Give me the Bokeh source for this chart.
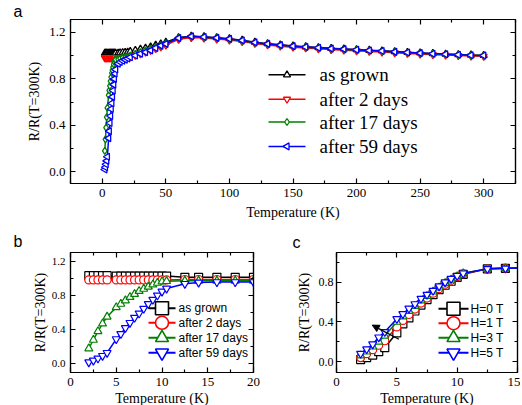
import numpy as np
from bokeh.plotting import figure
from bokeh.layouts import column, row
from bokeh.models import Range1d, LinearAxis, FixedTicker, Arrow, NormalHead, Title
from bokeh.core.properties import value
from bokeh.embed import file_html
from bokeh.resources import INLINE

# ---------------- data: panel a ----------------
a_T = [2, 2.5, 3, 3.5, 4, 5, 5.5, 6, 6.5, 7, 7.5, 8, 8.5, 9, 9.5, 10, 10.5, 12.5, 14, 16, 18, 20,
       22, 26, 30, 34, 38, 42, 46, 50,
       60, 70, 80, 90, 100, 110, 120, 130, 140, 150, 160, 170, 180, 190, 200,
       210, 220, 230, 240, 250, 260, 270, 280, 290, 300]
a_grown = [1.02, 1.02, 1.02, 1.02, 1.02, 1.02, 1.02, 1.02, 1.02, 1.02, 1.02, 1.02, 1.02, 1.02, 1.02, 1.02, 1.02,
           1.022, 1.024, 1.026, 1.028, 1.03,
           1.035, 1.045, 1.055, 1.065, 1.075, 1.09, 1.10, 1.115,
           1.155, 1.167, 1.162, 1.154, 1.145, 1.132, 1.115, 1.102, 1.092, 1.083, 1.076, 1.069, 1.062, 1.057, 1.052,
           1.046, 1.041, 1.034, 1.028, 1.023, 1.018, 1.013, 1.009, 1.005, 1.002]
a_2days = [0.98, 0.98, 0.98, 0.98, 0.98, 0.98, 0.98, 0.98, 0.98, 0.98, 0.98, 0.98, 0.98, 0.98, 0.98, 0.98, 0.98,
           0.98, 0.982, 0.984, 0.986, 0.988,
           0.99, 1.002, 1.015, 1.03, 1.045, 1.06, 1.075, 1.09,
           1.14, 1.155, 1.15, 1.142, 1.133, 1.12, 1.104, 1.091, 1.081, 1.072, 1.065, 1.058, 1.051, 1.046, 1.041,
           1.035, 1.03, 1.024, 1.018, 1.013, 1.008, 1.004, 1.0, 0.996, 0.993]
a_17days = [0.18, 0.28, 0.38, 0.47, 0.55, 0.66, 0.70, 0.74, 0.78, 0.815, 0.85, 0.875, 0.90, 0.925, 0.945, 0.96, 0.965,
            0.97, 0.975, 0.98, 0.985, 0.99,
            1.0, 1.015, 1.03, 1.045, 1.06, 1.075, 1.09, 1.105,
            1.15, 1.163, 1.157, 1.149, 1.14, 1.127, 1.11, 1.098, 1.088, 1.079, 1.072, 1.065, 1.058, 1.053, 1.048,
            1.042, 1.037, 1.03, 1.024, 1.019, 1.014, 1.009, 1.005, 1.002, 1.0]
a_59days = [0.02, 0.04, 0.065, 0.095, 0.13, 0.29, 0.35, 0.42, 0.48, 0.54, 0.59, 0.645, 0.70, 0.75, 0.80, 0.845, 0.88,
            0.93, 0.945, 0.955, 0.965, 0.975,
            0.985, 1.0, 1.015, 1.03, 1.045, 1.065, 1.085, 1.10,
            1.15, 1.165, 1.16, 1.152, 1.143, 1.13, 1.113, 1.10, 1.09, 1.081, 1.074, 1.067, 1.06, 1.055, 1.05,
            1.044, 1.039, 1.032, 1.026, 1.021, 1.016, 1.011, 1.007, 1.003, 1.0]
a_labels = ["as grown", "after 2 days", "after 17 days", "after 59 days"]
a_xticks = [0, 50, 100, 150, 200, 250, 300]
a_xminor = [-25, 25, 75, 125, 175, 225, 275, 325]
a_yticks = [0.0, 0.4, 0.8, 1.2]
a_ytick_labels = ["0.0", "0.4", "0.8", "1.2"]
a_yminor = [-0.2, 0.2, 0.6, 1.0, 1.4]

# ---------------- data: panel b ----------------
b_T = [2, 2.5, 3, 3.5, 4, 5, 5.5, 6, 6.5, 7, 7.5, 8, 8.5, 9, 9.5, 10, 10.5, 12.5, 14, 16, 18, 20]
b_grown = [1.03, 1.03, 1.03, 1.03, 1.03, 1.025, 1.025, 1.025, 1.025, 1.025, 1.025, 1.025, 1.025, 1.025, 1.025,
           1.025, 1.025, 1.01, 1.01, 1.01, 1.01, 1.01]
b_2days = [0.98, 0.98, 0.98, 0.98, 0.98, 0.98, 0.98, 0.98, 0.98, 0.98, 0.98, 0.98, 0.98, 0.98, 0.98,
           0.98, 0.98, 0.985, 0.985, 0.985, 0.985, 0.985]
b_17days = [0.18, 0.28, 0.38, 0.47, 0.55, 0.66, 0.70, 0.74, 0.78, 0.815, 0.85, 0.875, 0.90, 0.925, 0.945,
            0.96, 0.965, 0.97, 0.97, 0.97, 0.97, 0.97]
b_59days = [0.02, 0.04, 0.065, 0.095, 0.13, 0.29, 0.35, 0.42, 0.48, 0.54, 0.59, 0.645, 0.70, 0.75, 0.80,
            0.845, 0.88, 0.935, 0.95, 0.955, 0.955, 0.955]
b_xticks = [0, 5, 10, 15, 20]
b_xminor = [2.5, 7.5, 12.5, 17.5]
b_yticks = [0.0, 0.4, 0.8, 1.2]
b_ytick_labels = ["0.0", "0.4", "0.8", "1.2"]
b_yminor = [0.2, 0.6, 1.0]

# ---------------- data: panel c ----------------
c_T = [2, 2.5, 3, 3.5, 4, 5, 5.5, 6, 6.5, 7, 7.5, 8, 8.5, 9, 9.5, 10, 10.5, 12.5, 14, 16]
c_H0 = [0.02, 0.04, 0.065, 0.10, 0.14, 0.29, 0.38, 0.44, 0.51, 0.57, 0.625, 0.675, 0.725, 0.77, 0.81, 0.85, 0.88,
        0.935, 0.94, 0.945]
c_H1 = [0.04, 0.08, 0.12, 0.165, 0.21, 0.35, 0.415, 0.475, 0.53, 0.59, 0.64, 0.69, 0.735, 0.78, 0.82, 0.855, 0.885,
        0.935, 0.94, 0.945]
c_H3 = [0.06, 0.10, 0.15, 0.20, 0.26, 0.40, 0.455, 0.51, 0.56, 0.615, 0.66, 0.705, 0.745, 0.79, 0.825, 0.86, 0.89,
        0.935, 0.94, 0.945]
c_H5 = [0.08, 0.125, 0.175, 0.245, 0.30, 0.43, 0.48, 0.535, 0.58, 0.635, 0.675, 0.715, 0.76, 0.80, 0.835, 0.865,
        0.89, 0.935, 0.94, 0.945]
c_labels = ["H=0 T", "H=1 T", "H=3 T", "H=5 T"]
c_xticks = [0, 5, 10, 15]
c_xminor = [2.5, 7.5, 12.5]
c_yticks = [0.0, 0.4, 0.8]
c_ytick_labels = ["0.0", "0.4", "0.8"]
c_yminor = [0.2, 0.6, 1.0]
c_arrow_x = [5.17, 2.96]
c_arrow_y = [0.225, 0.368]

COLORS = ["#000000", "#ff0000", "#008000", "#0000ff"]
SERIF = "Liberation Serif"
SANS = "Liberation Sans"
XLABEL = "Temperature (K)"
YLABEL = "R/R(T=300K)"


def style(p, xt, xm, yt, ylab, ym, xfs, yfs, lfs):
    p.outline_line_color = "black"
    p.outline_line_width = 1.2
    p.grid.visible = False
    p.background_fill_color = "white"
    p.border_fill_color = "white"
    fmt = {float(v): s for v, s in zip(yt, ylab)}
    for ax, ticks, minor in ((p.xaxis[0], xt, xm), (p.yaxis[0], yt, ym)):
        ax.ticker = FixedTicker(ticks=ticks, minor_ticks=minor)
        ax.major_tick_in = 5
        ax.major_tick_out = 0
        ax.minor_tick_in = 3
        ax.minor_tick_out = 0
        ax.axis_line_width = 1.2
        ax.major_tick_line_width = 1.2
        ax.minor_tick_line_width = 1.2
        ax.major_label_text_font = SERIF
        ax.axis_label_text_font = SERIF
        ax.axis_label_text_font_style = "normal"
        ax.axis_label_text_color = "black"
        ax.major_label_text_color = "black"
        ax.axis_label_text_font_size = lfs
    p.xaxis[0].major_label_text_font_size = xfs
    p.yaxis[0].major_label_text_font_size = yfs
    p.yaxis[0].major_label_overrides = fmt
    for side, ticks, minor in (("right", yt, ym), ("above", xt, xm)):
        ax = LinearAxis(ticker=FixedTicker(ticks=ticks, minor_ticks=minor),
                        major_label_text_font_size="1px", major_label_text_color=None,
                        major_label_text_alpha=0, major_label_standoff=0,
                        major_tick_in=5, major_tick_out=0, minor_tick_in=3, minor_tick_out=0,
                        axis_line_width=1.2, major_tick_line_width=1.2, minor_tick_line_width=1.2)
        p.add_layout(ax, side)


def panel_label(p, text, offset, standoff):
    p.title.text = text
    p.title.text_font = SANS
    p.title.text_font_size = "16px"
    p.title.text_font_style = "normal"
    p.title.text_color = "black"
    p.title.align = "left"
    p.title.offset = offset
    p.title.standoff = standoff


def bottom_label(p, text, size):
    # x-axis caption drawn as a compact title under the tick labels
    p.add_layout(Title(text=text, align="center", text_font=SERIF, text_font_size=size,
                       text_font_style="normal", text_color="black", standoff=0), "below")


def legend(p, fw, fh, labels, markers, angles, size, rows_y, gx0, gx1, tx, font, fsize, lw, mlw):
    # hand-drawn legend in frame pixel coordinates
    p.extra_x_ranges = {"px": Range1d(0, fw)}
    p.extra_y_ranges = {"px": Range1d(0, fh)}
    for lab, col, mk, ang, yy in zip(labels, COLORS, markers, angles, rows_y):
        p.line([gx0, gx1], [yy, yy], line_color=col, line_width=lw, x_range_name="px", y_range_name="px")
        p.scatter([(gx0 + gx1) / 2], [yy], marker=mk, size=size, angle=ang, line_color=col,
                  fill_color="white", line_width=mlw, x_range_name="px", y_range_name="px")
        p.text([tx], [yy], text=[lab], text_font=value(font), text_font_size=value(fsize),
               text_baseline="middle", text_align="left", text_color="black",
               x_range_name="px", y_range_name="px")


# ---------------- panel a ----------------
pa = figure(width=520, height=228, output_backend="svg", toolbar_location=None,
            x_range=Range1d(-25, 325), y_range=Range1d(-0.1, 1.31),
            x_axis_label=XLABEL, y_axis_label=YLABEL,
            min_border_left=70, min_border_right=5, min_border_top=15, min_border_bottom=45)
style(pa, a_xticks, a_xminor, a_yticks, a_ytick_labels, a_yminor, "13px", "13px", "14px")
panel_label(pa, "a", -57, 0)
pa.xaxis[0].major_label_standoff = 4
pa.xaxis[0].axis_label_standoff = 12
pa.yaxis[0].major_label_standoff = 5
pa.yaxis[0].axis_label_standoff = 4

a_series = [a_grown, a_2days, a_17days, a_59days]
a_markers = ["triangle", "inverted_triangle", "diamond", "triangle"]
a_angles = [0, 0, 0, np.pi / 2]
for ys, col, mk, ang in zip(a_series, COLORS, a_markers, a_angles):
    pa.line(a_T, ys, line_color=col, line_width=1.5)
    pa.scatter(a_T, ys, marker=mk, size=7, angle=ang, line_color=col, fill_color="white", line_width=1.3)
legend(pa, 445, 168, a_labels, a_markers, a_angles, 7, [111.3, 86.3, 63, 38],
       198, 235, 249, SERIF, "19px", 1.5, 1.3)

# ---------------- panel b ----------------
pb = figure(width=270, height=177, output_backend="svg", toolbar_location=None,
            x_range=Range1d(0, 20), y_range=Range1d(-0.1, 1.3),
            y_axis_label=YLABEL,
            min_border_left=70, min_border_right=17, min_border_top=24, min_border_bottom=30)
style(pb, b_xticks, b_xminor, b_yticks, b_ytick_labels, b_yminor, "13px", "11px", "14px")
bottom_label(pb, XLABEL, "14px")
panel_label(pb, "b", -57, 5)
pb.xaxis[0].major_label_standoff = 0
pb.yaxis[0].major_label_standoff = 5
pb.yaxis[0].axis_label_standoff = 1

b_series = [b_grown, b_2days, b_17days, b_59days]
bc_markers = ["square", "circle", "triangle", "inverted_triangle"]
for ys, col, mk in zip(b_series, COLORS, bc_markers):
    pb.line(b_T, ys, line_color=col, line_width=1.5)
    pb.scatter(b_T, ys, marker=mk, size=8, line_color=col, fill_color="white", line_width=1.2)
legend(pb, 183, 120, a_labels, bc_markers, [0, 0, 0, 0], 13, [64.3, 49.7, 34.7, 19.7],
       78, 105, 108, SANS, "12px", 2, 1.6)

# ---------------- panel c ----------------
pc = figure(width=250, height=177, output_backend="svg", toolbar_location=None,
            x_range=Range1d(0, 15), y_range=Range1d(-0.11, 1.1),
            y_axis_label=YLABEL,
            min_border_left=66, min_border_right=3, min_border_top=24, min_border_bottom=30)
style(pc, c_xticks, c_xminor, c_yticks, c_ytick_labels, c_yminor, "13px", "12px", "14px")
bottom_label(pc, XLABEL, "14px")
panel_label(pc, "c", -44, 3)
pc.xaxis[0].major_label_standoff = 0
pc.yaxis[0].major_label_standoff = 3
pc.yaxis[0].axis_label_standoff = 4

c_series = [c_H0, c_H1, c_H3, c_H5]
for ys, col, mk in zip(c_series, COLORS, bc_markers):
    pc.line(c_T, ys, line_color=col, line_width=1.5)
    pc.scatter(c_T, ys, marker=mk, size=8, line_color=col, fill_color="white", line_width=1.2)
legend(pc, 181, 120, c_labels, bc_markers, [0, 0, 0, 0], 13, [63.7, 49.3, 34.7, 19.7],
       102, 132, 134, SANS, "12px", 2, 1.6)
pc.add_layout(Arrow(end=NormalHead(size=7, fill_color="black", line_color="black"),
                    x_start=c_arrow_x[0], y_start=c_arrow_y[0],
                    x_end=c_arrow_x[1], y_end=c_arrow_y[1],
                    line_color="black", line_width=1.3))

layout = column(pa, row(pb, pc))
open("out.html", "w").write(file_html(layout, INLINE))
